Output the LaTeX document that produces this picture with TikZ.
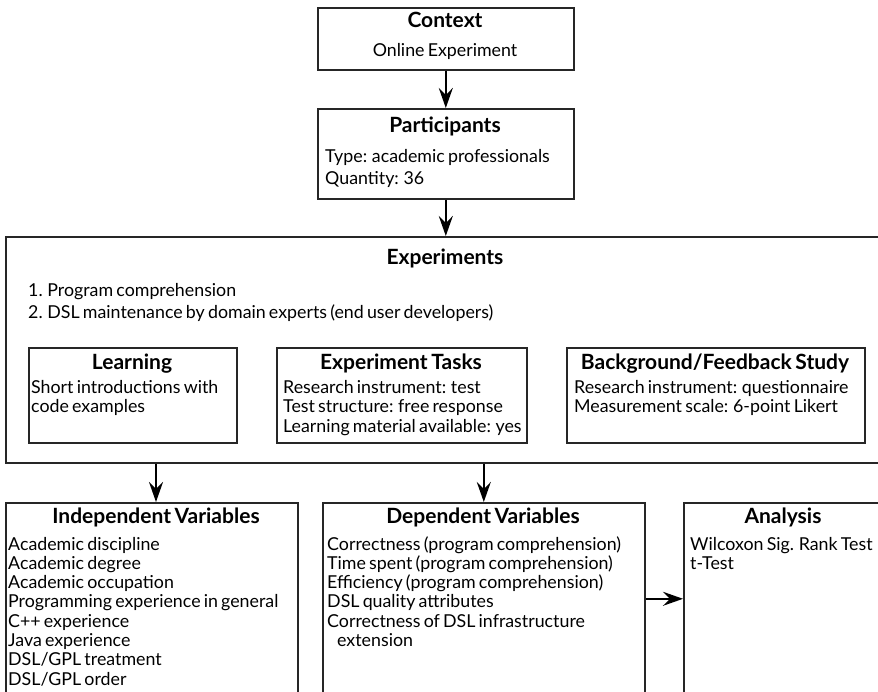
\documentclass[tikz,border=0pt]{standalone}
\usepackage{fontspec}
\setmainfont[WordSpace=0.7]{Lato}
\usetikzlibrary{arrows.meta}
\begin{document}
\begin{tikzpicture}[x=1pt,y=-1pt,
  box/.style={draw=black!85, line width=1.6pt, rectangle, inner sep=0pt, anchor=north west},
  ttl/.style={font=\fontsize{21}{21}\selectfont\bfseries, anchor=base, inner sep=0pt},
  txt/.style={font=\fontsize{17.8}{18}\selectfont, anchor=base west, inner sep=0pt},
  ctxt/.style={font=\fontsize{17.8}{18}\selectfont, anchor=base, inner sep=0pt},
  flow/.style={-{Stealth[length=20pt,width=14pt,inset=7pt]}, line width=2.2pt},
]
\useasboundingbox (0,0) rectangle (878,692);
\clip (0,0) rectangle (878,692);

% frames
\node[box, minimum width=256pt, minimum height=62pt]  (ctx)   at (317,7)   {};
\node[box, minimum width=256pt, minimum height=90pt]  (part)  at (317,108) {};
\node[box, minimum width=880pt, minimum height=226pt] (exp)   at (5,236)   {};
\node[box, minimum width=208pt, minimum height=95pt]  (learn) at (28,347)  {};
\node[box, minimum width=250pt, minimum height=95pt]  (tasks) at (276,347) {};
\node[box, minimum width=298pt, minimum height=95pt]  (bg)    at (566,347) {};
\node[box, minimum width=292pt, minimum height=192pt] (indep) at (5,502)   {};
\node[box, minimum width=322pt, minimum height=192pt] (dep)   at (322,502) {};
\node[box, minimum width=200pt, minimum height=192pt] (ana)   at (683,502) {};

% context
\node[ttl]  (ctxT)  at (445,28) {Context};
\node[ctxt] (ctxL1) at (445,57) {Online Experiment};

% participants
\node[ttl] (partT)  at (445,133) {Participants};
\node[txt] (partL1) at (325,163) {Type: academic professionals};
\node[txt] (partL2) at (325,185) {Quantity: 36};

% experiments
\node[ttl] (expT)  at (445,265) {Experiments};
\node[txt] (expL1) at (28,297)  {1. Program comprehension};
\node[txt] (expL2) at (28,319)  {2. DSL maintenance by domain experts (end user developers)};

\node[ttl] (learnT)  at (132,370) {Learning};
\node[txt] (learnL1) at (31,394)  {Short introductions with};
\node[txt] (learnL2) at (31,413)  {code examples};

\node[ttl] (tasksT)  at (401,370) {Experiment Tasks};
\node[txt] (tasksL1) at (283,394) {Research instrument: test};
\node[txt] (tasksL2) at (283,413) {Test structure: free response};
\node[txt] (tasksL3) at (283,432) {Learning material available: yes};

\node[ttl] (bgT)  at (715,370) {Background/Feedback Study};
\node[txt] (bgL1) at (574,394) {Research instrument: questionnaire};
\node[txt] (bgL2) at (574,413) {Measurement scale: 6-point Likert};

% independent variables
\node[ttl] (indepT) at (156,523) {Independent Variables};
\foreach \t [count=\i from 0] in {Academic discipline, Academic degree,
    Academic occupation, Programming experience in general, C++ experience,
    Java experience, DSL/GPL treatment, DSL/GPL order}
  \node[txt] (indepL\i) at (8,550+19.3*\i) {\t};

% dependent variables
\node[ttl] (depT) at (483,523) {Dependent Variables};
\node[txt] (depL1) at (327,550)   {Correctness (program comprehension)};
\node[txt] (depL2) at (327,569.3) {Time spent (program comprehension)};
\node[txt] (depL3) at (327,588.6) {Efficiency (program comprehension)};
\node[txt] (depL4) at (327,607.9) {DSL quality attributes};
\node[txt] (depL5) at (327,627.2) {Correctness of DSL infrastructure};
\node[txt] (depL6) at (337,646.5) {extension};

% analysis
\node[ttl] (anaT)  at (783,523) {Analysis};
\node[txt] (anaL1) at (690,550)   {Wilcoxon Sig. Rank Test};
\node[txt] (anaL2) at (690,569.3) {t-Test};

% connectors
\draw[flow] (ctx.south) -- (part.north);
\draw[flow] (part.south) -- (exp.north);
\draw[flow] (indepT |- exp.south) -- (indepT |- indep.north);
\draw[flow] (dep |- exp.south) -- (dep.north);
\draw[flow] (dep.east) -- (ana.west);
\end{tikzpicture}
\end{document}
